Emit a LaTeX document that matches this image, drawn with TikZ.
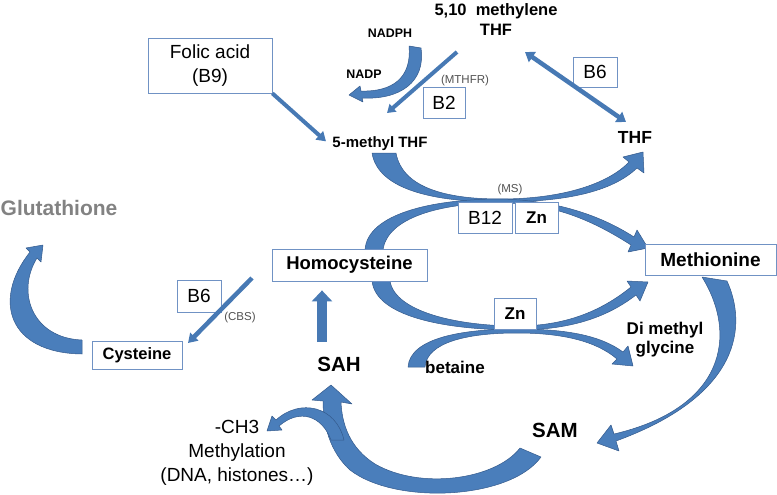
\documentclass[tikz,border=0pt]{standalone}
\usepackage{fontspec}
\setmainfont{Liberation Sans}
\usetikzlibrary{arrows.meta,positioning,calc}
\definecolor{arrowfill}{RGB}{74,126,187}
\definecolor{arrowline}{RGB}{52,90,140}
\definecolor{boxline}{RGB}{112,146,196}
\definecolor{greytext}{RGB}{130,130,130}
\definecolor{enzymetext}{RGB}{80,80,80}

\begin{document}
\begin{tikzpicture}[x=1pt, y=-1pt,
    box/.style={draw=boxline, line width=0.8pt, fill=white, inner sep=0pt, align=center},
    block/.style={fill=arrowfill, draw=arrowline, line width=0.5pt, line join=round},
    shaft/.style={draw=arrowfill!85!arrowline, line width=#1},
    bold/.style 2 args={font=\bfseries\fontsize{#1}{#2}\selectfont},
    reg/.style 2 args={font=\fontsize{#1}{#2}\selectfont},
    enzyme/.style={font=\fontsize{11.5}{12}\selectfont, text=enzymetext}]
    \useasboundingbox (0, 0) rectangle (777, 495);

    % Curved block arrows
    % 5-methyl THF -> THF
    \draw[block] (372, 153) .. controls (378, 190) and (435, 202) .. (500, 202)
        .. controls (565, 202) and (612, 192) .. (637, 168)
        -- (644, 173) -- (643, 152) -- (623, 157) -- (629, 162)
        .. controls (608, 184) and (562, 199) .. (500, 199)
        .. controls (442, 199) and (402, 186) .. (396, 153) -- cycle;
    % Homocysteine -> Methionine (MS)
    \draw[block] (365, 250) .. controls (367, 214) and (432, 199) .. (500, 199)
        .. controls (555, 200) and (600, 215) .. (634, 237)
        -- (637, 230) -- (648, 248) -- (628, 252) -- (631, 245)
        .. controls (595, 222) and (555, 203) .. (500, 203)
        .. controls (440, 203) and (387, 218) .. (383, 250) -- cycle;
    % Homocysteine -> Methionine (betaine)
    \draw[block] (372, 281) .. controls (376, 318) and (450, 330) .. (517, 330)
        .. controls (575, 330) and (610, 315) .. (636, 295)
        -- (640, 301) -- (648, 282) -- (627, 281) -- (631, 287)
        .. controls (605, 308) and (570, 326) .. (517, 326)
        .. controls (458, 326) and (395, 312) .. (390, 281) -- cycle;
    % betaine -> Di methyl glycine
    \draw[block] (408, 367) .. controls (410, 338) and (462, 329) .. (517, 329)
        .. controls (565, 329) and (600, 335) .. (623, 352)
        -- (628, 346) -- (633, 366) -- (612, 364) -- (617, 359)
        .. controls (596, 341) and (562, 333) .. (517, 333)
        .. controls (468, 333) and (427, 342) .. (425, 367) -- cycle;
    % Methionine -> SAM
    \draw[block] (702, 277) -- (727, 281)
        .. controls (747, 325) and (742, 395) .. (616, 441)
        -- (619, 451) -- (597, 443) -- (611, 425) -- (614, 434)
        .. controls (725, 408) and (738, 335) .. (702, 277) -- cycle;
    % SAM -> SAH
    \draw[block] (520, 448) -- (541, 457)
        .. controls (510, 500) and (395, 505) .. (350, 470)
        .. controls (330, 452) and (323, 425) .. (323, 401)
        -- (312, 400) -- (331, 385) -- (352, 404) -- (341, 402)
        .. controls (342, 425) and (350, 448) .. (375, 464)
        .. controls (420, 490) and (495, 480) .. (520, 448) -- cycle;
    % methyl group
    \draw[block] (344, 440) .. controls (336, 406) and (300, 398) .. (276, 420)
        -- (272, 416) -- (267, 431) -- (282, 430) -- (279, 426)
        .. controls (300, 408) and (322, 416) .. (331, 440) -- cycle;
    % NADPH -> NADP
    \draw[block] (409, 46) -- (421, 48)
        .. controls (426, 82) and (400, 100) .. (362, 98)
        -- (363, 102) -- (349, 95) -- (360, 86) -- (361, 91)
        .. controls (392, 92) and (412, 78) .. (409, 46) -- cycle;
    % Cysteine -> Glutathione
    \draw[block] (82, 354) .. controls (8, 353) and (-8, 300) .. (30, 252)
        -- (26, 248) -- (43, 245) -- (41, 262) -- (37, 258)
        .. controls (16, 292) and (32, 338) .. (82, 340) -- cycle;

    % Boxes
    \node[box, reg={19}{24}, minimum width=124pt, minimum height=55pt] (folic) at (210, 65.5) {Folic acid\\(B9)};
    \node[box, reg={19}{20}, minimum width=42pt, minimum height=31pt] (btwo) at (444, 102.5) {B2};
    \node[box, reg={19}{20}, minimum width=44pt, minimum height=30pt] (bsixtop) at (595, 72) {B6};
    \node[box, reg={19}{20}, minimum width=54pt, minimum height=31pt] (btwelve) at (485, 217.5) {B12};
    \node[box, bold={17}{20}, minimum width=43pt, minimum height=31pt] (zntop) at (536.5, 217.5) {Zn};
    \node[box, bold={17}{20}, minimum width=42pt, minimum height=31pt] (znbot) at (515, 313.5) {Zn};
    \node[box, bold={18.5}{20}, minimum width=155pt, minimum height=32pt] (homocys) at (349.5, 265) {Homocysteine};
    \node[box, bold={19}{20}, minimum width=131pt, minimum height=31pt] (methio) at (710.5, 259.5) {Methionine};
    \node[box, bold={16.5}{20}, minimum width=90pt, minimum height=28pt] (cys) at (137, 355) {Cysteine};
    \node[box, reg={19}{20}, minimum width=44pt, minimum height=32pt] (bsixleft) at (199, 296) {B6};

    % Labels
    \node[bold={16.5}{20}, align=center] (mthylene) at (496, 20) {5,10\ \ methylene\\THF};
    \node[bold={12.4}{14}] (nadph) at (390, 33) {NADPH};
    \node[bold={12.4}{14}] (nadp) at (364, 74) {NADP};
    \node[enzyme] (mthfr) at (465, 81) {(MTHFR)};
    \node[bold={15}{16}] (mthf) at (380, 144) {5-methyl THF};
    \node[bold={17.5}{20}] (thf) at (635, 137) {THF};
    \node[enzyme] (ms) at (510, 190) {(MS)};
    \node[bold={21}{24}, text=greytext] (glut) at (59, 208) {Glutathione};
    \node[enzyme] (cbs) at (240, 318) {(CBS)};
    \node[bold={20.5}{22}] (sah) at (339, 364) {SAH};
    \node[bold={20.5}{22}] (sam) at (555, 430) {SAM};
    \node[bold={17}{19}] (betaine) at (455, 367) {betaine};
    \node[bold={17}{19}, align=center] (dmg) at (665, 340) {Di methyl\\glycine};
    \node[reg={19}{24}, align=center] (methyl) at (237, 453) {-CH3\\Methylation\\(DNA, histones…)};

    % Straight arrows
    \coordinate (b6a) at (525, 52);
    \coordinate (b6b) at (626, 122);
    \coordinate (mthfra) at (457, 52);
    \coordinate (mthfrb) at (387, 113);
    \coordinate (cbsa) at (252, 278);
    \coordinate (cbsb) at (188, 343);
    \coordinate (sahup) at (322, 342);
    \draw[shaft=4pt, -{Triangle[width=11pt, length=9pt]}, shorten >=4pt] (folic.south east) -- (mthf.west);
    \draw[shaft=4.5pt, {Triangle[width=12pt, length=9pt]}-{Triangle[width=12pt, length=9pt]}] (b6a) -- (b6b);
    \draw[shaft=4pt, -{Triangle[width=10pt, length=8pt]}] (mthfra) -- (mthfrb);
    \draw[shaft=4.5pt, -{Triangle[width=11pt, length=9pt]}] (cbsa) -- (cbsb);
    \draw[shaft=10pt, -{Triangle[width=20pt, length=11pt]}, shorten >=9pt] (sahup) -- (sahup |- homocys.south);
\end{tikzpicture}
\end{document}
